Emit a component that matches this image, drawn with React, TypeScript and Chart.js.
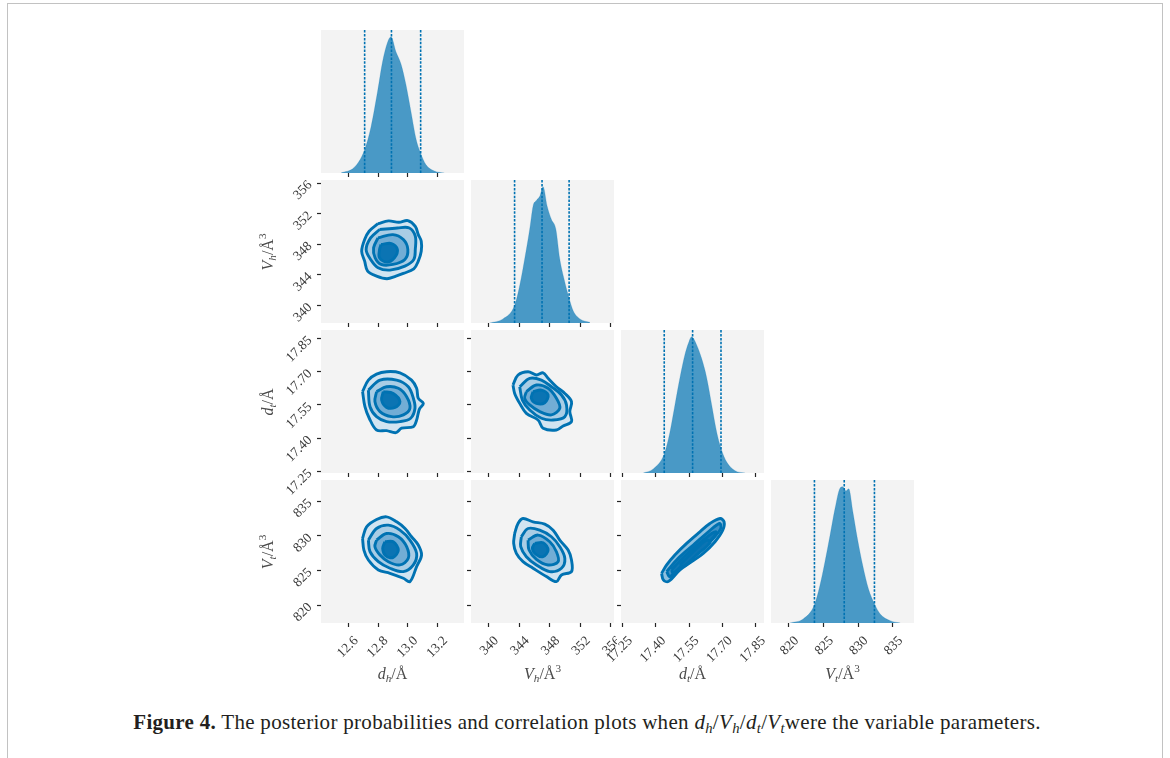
import React, { useEffect, useRef } from 'react';
import { Chart, registerables } from 'chart.js';

Chart.register(...registerables);

// ---------------- data ----------------
type Pt = [number, number];

const dhTicks = [12.6, 12.8, 13.0, 13.2];
const dhTickLabels = ['12.6', '12.8', '13.0', '13.2'];
const VhTicks = [340, 344, 348, 352, 356];
const VhTickLabels = ['340', '344', '348', '352', '356'];
const dtTicks = [17.25, 17.4, 17.55, 17.7, 17.85];
const dtTickLabels = ['17.25', '17.40', '17.55', '17.70', '17.85'];
const VtTicks = [820, 825, 830, 835];
const VtTickLabels = ['820', '825', '830', '835'];

const dhRange = [12.417, 13.377];
const VhRange = [337.7, 356.4];
const dtRange = [17.243, 17.888];
const VtRange = [817.43, 838.07];

// marginal posteriors (normalised to peak = 1)
const dhHistX = [12.551, 12.641, 12.708, 12.753, 12.797, 12.831, 12.864, 12.887, 12.92, 12.954, 12.987, 13.021, 13.055, 13.084, 13.122, 13.178, 13.245];
const dhHistY = [0.0, 0.042, 0.165, 0.34, 0.6, 0.82, 0.96, 1.0, 0.89, 0.8, 0.65, 0.45, 0.25, 0.15, 0.06, 0.015, 0.0];
const VhHistX = [340.13, 341.88, 343.41, 344.07, 344.72, 345.38, 345.82, 346.25, 346.69, 347.13, 347.65, 348.22, 348.79, 349.31, 349.97, 350.54, 351.06, 351.94, 353.25];
const VhHistY = [0.0, 0.03, 0.13, 0.275, 0.47, 0.69, 0.86, 0.9, 0.93, 1.0, 0.86, 0.76, 0.69, 0.47, 0.3, 0.18, 0.09, 0.03, 0.005];
const dtHistX = [17.3432, 17.3884, 17.4381, 17.4637, 17.4863, 17.5089, 17.5315, 17.5466, 17.5616, 17.5842, 17.6068, 17.6294, 17.652, 17.6746, 17.6942, 17.7198, 17.7575, 17.8026];
const dtHistY = [0.0, 0.03, 0.14, 0.3, 0.5, 0.7, 0.87, 0.95, 1.0, 0.94, 0.84, 0.7, 0.5, 0.3, 0.18, 0.08, 0.017, 0.0];
const VtHistX = [820.14, 822.08, 823.67, 824.49, 825.22, 825.94, 826.67, 827.39, 827.78, 828.26, 828.65, 829.23, 829.9, 830.68, 831.5, 832.37, 833.19, 834.64, 836.09];
const VtHistY = [0.0, 0.03, 0.13, 0.275, 0.45, 0.64, 0.84, 0.99, 1.0, 0.97, 0.985, 0.82, 0.62, 0.42, 0.25, 0.14, 0.066, 0.017, 0.0];

// 16 / 50 / 84 % quantiles
const dhQuantiles = [12.71, 12.89, 13.086];
const VhQuantiles = [343.4, 346.99, 350.53];
const dtQuantiles = [17.438, 17.566, 17.694];
const VtQuantiles = [823.7, 828.0, 832.36];

// 2-D credible contours (outer -> inner)
const dhVh1: Pt[] = [[12.8, 350.7], [12.87, 351.05], [12.94, 350.87], [13.0, 351.09], [13.05, 350.35], [13.07, 349.26], [13.09, 348.4], [13.09, 347.09], [13.07, 345.79], [13.04, 344.79], [12.97, 344.18], [12.92, 343.83], [12.86, 343.49], [12.79, 343.83], [12.73, 344.49], [12.71, 345.79], [12.69, 347.09], [12.71, 348.61], [12.74, 349.7]];
const dhVh2: Pt[] = [[12.81, 349.92], [12.93, 350.13], [13.01, 350.13], [13.05, 349.05], [13.05, 347.31], [13.04, 346.01], [12.98, 345.14], [12.88, 344.62], [12.8, 344.92], [12.75, 346.01], [12.72, 347.31], [12.75, 348.83]];
const dhVh3: Pt[] = [[12.8, 348.83], [12.9, 349.26], [12.97, 348.61], [13.0, 347.31], [12.98, 346.01], [12.9, 345.36], [12.82, 345.36], [12.78, 346.23], [12.77, 347.53]];
const dhVh4: Pt[] = [[12.82, 347.96], [12.89, 348.09], [12.93, 347.31], [12.91, 346.23], [12.86, 345.66], [12.81, 346.23], [12.81, 347.31]];

const dhdt1: Pt[] = [[12.696, 17.61], [12.735, 17.662], [12.79, 17.689], [12.857, 17.7], [12.947, 17.695], [13.025, 17.662], [13.059, 17.625], [13.07, 17.58], [13.104, 17.557], [13.077, 17.53], [13.059, 17.482], [13.037, 17.452], [12.958, 17.445], [12.92, 17.425], [12.857, 17.434], [12.79, 17.437], [12.741, 17.49], [12.712, 17.542]];
const dhdt2: Pt[] = [[12.735, 17.617], [12.813, 17.662], [12.925, 17.662], [13.003, 17.632], [13.037, 17.58], [13.048, 17.535], [13.019, 17.49], [12.947, 17.475], [12.857, 17.475], [12.79, 17.497], [12.746, 17.542]];
const dhdt3: Pt[] = [[12.79, 17.61], [12.857, 17.632], [12.936, 17.625], [12.992, 17.587], [13.014, 17.535], [12.97, 17.505], [12.891, 17.497], [12.813, 17.52], [12.779, 17.565]];
const dhdt4: Pt[] = [[12.835, 17.61], [12.902, 17.602], [12.947, 17.565], [12.914, 17.539], [12.857, 17.539], [12.824, 17.572]];

const Vhdt1: Pt[] = [[343.19, 17.64], [343.85, 17.685], [345.16, 17.7], [346.25, 17.685], [347.13, 17.695], [347.78, 17.67], [348.87, 17.632], [349.97, 17.602], [350.84, 17.565], [350.62, 17.52], [350.84, 17.475], [349.75, 17.455], [348.87, 17.437], [347.13, 17.445], [346.47, 17.482], [344.94, 17.512], [344.07, 17.557], [343.41, 17.602]];
const Vhdt2: Pt[] = [[344.07, 17.632], [345.38, 17.67], [346.91, 17.662], [348.22, 17.632], [349.53, 17.595], [350.19, 17.55], [349.97, 17.497], [348.44, 17.482], [346.91, 17.49], [345.38, 17.527], [344.42, 17.572]];
const Vhdt3: Pt[] = [[344.94, 17.61], [346.25, 17.64], [347.78, 17.625], [348.87, 17.58], [349.31, 17.535], [348.22, 17.505], [346.69, 17.52], [345.38, 17.55], [344.72, 17.58]];
const Vhdt4: Pt[] = [[345.81, 17.61], [346.91, 17.617], [347.78, 17.595], [347.34, 17.56], [346.25, 17.557], [345.59, 17.58]];

const dhVt1: Pt[] = [[12.696, 829.64], [12.723, 831.31], [12.79, 832.37], [12.857, 832.75], [12.925, 832.03], [12.981, 831.07], [13.025, 829.88], [13.07, 828.68], [13.092, 827.24], [13.059, 825.57], [13.014, 823.41], [12.97, 823.89], [12.88, 824.61], [12.802, 825.09], [12.735, 826.52], [12.705, 827.96]];
const dhVt2: Pt[] = [[12.735, 829.4], [12.79, 831.07], [12.869, 831.55], [12.947, 830.83], [13.014, 829.4], [13.059, 827.48], [13.037, 825.81], [12.97, 824.85], [12.88, 825.33], [12.802, 826.28], [12.746, 827.72]];
const dhVt3: Pt[] = [[12.79, 829.4], [12.857, 830.35], [12.936, 829.88], [12.992, 828.44], [13.003, 826.76], [12.947, 825.81], [12.869, 826.28], [12.813, 827.24], [12.779, 828.44]];
const dhVt4: Pt[] = [[12.846, 829.16], [12.902, 829.16], [12.936, 827.96], [12.902, 826.91], [12.853, 827.1], [12.831, 828.2]];

const VhVt1: Pt[] = [[343.41, 830.35], [343.85, 831.79], [344.5, 832.51], [345.81, 832.03], [347.34, 831.7], [348.44, 830.83], [349.31, 829.4], [350.4, 827.96], [350.84, 826.52], [350.84, 824.85], [349.53, 824.37], [348.87, 823.41], [347.56, 824.13], [345.81, 825.33], [344.5, 826.28], [343.63, 827.48], [343.28, 828.92]];
const VhVt2: Pt[] = [[344.28, 829.88], [345.16, 831.07], [346.69, 830.83], [348.22, 829.88], [349.31, 828.44], [349.97, 826.76], [349.53, 825.33], [348.0, 824.85], [346.25, 825.81], [344.94, 827.0], [344.2, 828.44]];
const VhVt3: Pt[] = [[345.16, 829.4], [346.47, 830.12], [348.0, 829.16], [348.87, 827.72], [349.09, 826.28], [347.78, 825.81], [346.25, 826.62], [345.29, 827.96]];
const VhVt4: Pt[] = [[346.03, 828.92], [347.13, 829.02], [347.78, 827.96], [347.13, 827.0], [346.16, 827.38], [345.73, 828.2]];

const dtVt1: Pt[] = [[17.426, 824.61], [17.449, 825.81], [17.486, 827.24], [17.539, 828.92], [17.599, 830.59], [17.644, 831.79], [17.69, 832.51], [17.708, 832.03], [17.702, 830.83], [17.667, 829.16], [17.614, 827.48], [17.562, 826.28], [17.509, 825.09], [17.456, 823.41], [17.434, 823.65]];
const dtVt2: Pt[] = [[17.449, 824.85], [17.501, 826.76], [17.569, 828.68], [17.637, 830.59], [17.687, 831.79], [17.693, 831.07], [17.652, 829.4], [17.584, 827.48], [17.516, 825.81], [17.464, 824.13]];
const dtVt3: Pt[] = [[17.471, 825.09], [17.524, 826.91], [17.592, 828.82], [17.652, 830.35], [17.672, 830.59], [17.66, 829.78], [17.599, 827.96], [17.531, 826.14], [17.479, 824.61]];
const dtVt4: Pt[] = [[17.509, 825.81], [17.569, 827.72], [17.629, 829.4], [17.644, 829.02], [17.584, 827.24], [17.524, 825.57]];

// ---------------- tables built from the arrays ----------------
type Param = { ticks: number[]; labels: string[]; range: number[]; histX: number[]; histY: number[]; q: number[]; sym: string; sub: string; cube: boolean };
const PARAMS: Param[] = [
  { ticks: dhTicks, labels: dhTickLabels, range: dhRange, histX: dhHistX, histY: dhHistY, q: dhQuantiles, sym: 'd', sub: 'h', cube: false },
  { ticks: VhTicks, labels: VhTickLabels, range: VhRange, histX: VhHistX, histY: VhHistY, q: VhQuantiles, sym: 'V', sub: 'h', cube: true },
  { ticks: dtTicks, labels: dtTickLabels, range: dtRange, histX: dtHistX, histY: dtHistY, q: dtQuantiles, sym: 'd', sub: 't', cube: false },
  { ticks: VtTicks, labels: VtTickLabels, range: VtRange, histX: VtHistX, histY: VtHistY, q: VtQuantiles, sym: 'V', sub: 't', cube: true },
];
const CONTOURS: Record<string, Pt[][]> = {
  '1-0': [dhVh1, dhVh2, dhVh3, dhVh4],
  '2-0': [dhdt1, dhdt2, dhdt3, dhdt4],
  '2-1': [Vhdt1, Vhdt2, Vhdt3, Vhdt4],
  '3-0': [dhVt1, dhVt2, dhVt3, dhVt4],
  '3-1': [VhVt1, VhVt2, VhVt3, VhVt4],
  '3-2': [dtVt1, dtVt2, dtVt3, dtVt4],
};

// ---------------- styling / layout ----------------
const COL_LEFT = [321, 471, 621, 771];
const ROW_TOP = [30, 180, 330, 480];
const PS = 143;
const ML = 56;
const MB = 64;
const MT = 3;
const MR = 3;
const HIST_MAX = 1.05;
const PANEL_BG = '#f3f3f3';
const LINE_COLOR = '#0072b2';
const HIST_FILL = 'rgba(0,114,178,0.70)';
const LEVEL_FILLS = ['#d1e4f1', '#a9cde5', '#72add5', '#0b74b3'];
const NARROW_FILLS = ['#8fc0df', '#3f91c6', '#1178b6', '#0b74b3'];
const TICK_COLOR = '#262626';
const LABEL_COLOR = '#3a3a3a';
const SERIF = '"Liberation Serif", "Times New Roman", serif';

const bgPlugin = {
  id: 'panelBg',
  beforeDraw(chart: any) {
    const { ctx, chartArea: a } = chart;
    ctx.save();
    ctx.fillStyle = PANEL_BG;
    ctx.fillRect(a.left, a.top, a.right - a.left, a.bottom - a.top);
    ctx.restore();
  },
};

function zeroPad(s: any) {
  s.paddingLeft = 0;
  s.paddingRight = 0;
  s.paddingTop = 0;
  s.paddingBottom = 0;
}

function buildConfig(row: number, col: number): any {
  const px = PARAMS[col];
  const py = PARAMS[row];
  const diag = row === col;
  const isBottom = row === 3;
  const datasets: any[] = [];
  if (diag) {
    px.q.forEach((q) => {
      datasets.push({
        data: [{ x: q, y: 0 }, { x: q, y: HIST_MAX }],
        borderColor: LINE_COLOR,
        borderWidth: 1.6,
        borderDash: [2.5, 1.4],
        pointRadius: 0,
        fill: false,
        tension: 0,
      });
    });
    datasets.push({
      data: px.histX.map((x, i) => ({ x, y: px.histY[i] })),
      borderColor: 'rgba(0,114,178,0.25)',
      borderWidth: 0.8,
      backgroundColor: HIST_FILL,
      fill: 'origin',
      pointRadius: 0,
      cubicInterpolationMode: 'monotone',
    });
  } else {
    const key = `${row}-${col}`;
    const levels = CONTOURS[key];
    const fills = key === '3-2' ? NARROW_FILLS : LEVEL_FILLS;
    for (let k = levels.length - 1; k >= 0; k--) {
      const pts = levels[k];
      const closed = [...pts, pts[0]];
      datasets.push({
        data: closed.map(([x, y]) => ({ x, y })),
        borderColor: LINE_COLOR,
        borderWidth: 2.9,
        backgroundColor: fills[k],
        fill: 'shape',
        pointRadius: 0,
        tension: 0.35,
      });
    }
  }

  const tickFont = { family: SERIF, size: 13.5 };

  const xScale: any = {
    type: 'linear',
    position: 'bottom',
    min: px.range[0],
    max: px.range[1],
    afterBuildTicks: (s: any) => {
      s.ticks = px.ticks.map((v) => ({ value: v }));
    },
    afterFit: (s: any) => {
      s.height = MB;
      zeroPad(s);
    },
    grid: { display: true, drawOnChartArea: false, drawTicks: true, tickLength: 4, tickWidth: 1.2, tickColor: TICK_COLOR },
    border: { display: false },
    ticks: {
      autoSkip: false,
      minRotation: 45,
      maxRotation: 45,
      padding: 6,
      labelOffset: 8,
      color: LABEL_COLOR,
      font: tickFont,
      callback: (_v: any, i: number) => (isBottom ? px.labels[i] : ''),
    },
  };

  const yScale: any = diag
    ? {
        type: 'linear',
        position: 'left',
        min: 0,
        max: HIST_MAX,
        afterFit: (s: any) => {
          s.width = ML;
          zeroPad(s);
        },
        grid: { display: false },
        border: { display: false },
        ticks: { display: false },
      }
    : {
        type: 'linear',
        position: 'left',
        min: py.range[0],
        max: py.range[1],
        afterBuildTicks: (s: any) => {
          s.ticks = py.ticks.map((v) => ({ value: v }));
        },
        afterFit: (s: any) => {
          s.width = ML;
          zeroPad(s);
        },
        grid: { display: true, drawOnChartArea: false, drawTicks: true, tickLength: 4, tickWidth: 1.2, tickColor: TICK_COLOR },
        border: { display: false },
        ticks: {
          autoSkip: false,
          minRotation: 45,
          maxRotation: 45,
          padding: 7,
          color: LABEL_COLOR,
          font: tickFont,
          callback: (_v: any, i: number) => (col === 0 ? py.labels[i] : ''),
        },
      };

  return {
    type: 'line',
    data: { datasets },
    options: {
      responsive: false,
      maintainAspectRatio: false,
      animation: false,
      events: [],
      layout: { padding: { top: MT, right: MR, left: 0, bottom: 0 } },
      plugins: { legend: { display: false }, tooltip: { enabled: false } },
      scales: { x: xScale, y: yScale },
    },
    plugins: [bgPlugin],
  };
}

function Panel({ row, col }: { row: number; col: number }) {
  const ref = useRef<HTMLCanvasElement>(null);
  useEffect(() => {
    if (!ref.current) return;
    const chart = new Chart(ref.current, buildConfig(row, col));
    return () => chart.destroy();
  }, [row, col]);
  const w = ML + PS + MR;
  const h = MT + PS + MB;
  return (
    <canvas
      ref={ref}
      width={w}
      height={h}
      style={{ position: 'absolute', left: COL_LEFT[col] - ML, top: ROW_TOP[row] - MT, width: w, height: h }}
    />
  );
}

function AxisTitle({ p }: { p: Param }) {
  return (
    <span>
      <i>{p.sym}</i>
      <sub style={{ fontSize: '0.7em', verticalAlign: '-0.3em', lineHeight: 0, fontStyle: 'italic' }}>{p.sub}</sub>
      /Å
      {p.cube ? <sup style={{ fontSize: '0.7em', verticalAlign: '0.6em', lineHeight: 0 }}>3</sup> : null}
    </span>
  );
}

function MathSym({ s, sub }: { s: string; sub: string }) {
  return (
    <span>
      <i>{s}</i>
      <sub style={{ fontSize: '0.7em', verticalAlign: '-0.3em', lineHeight: 0, fontStyle: 'italic' }}>{sub}</sub>
    </span>
  );
}

const PANELS: [number, number][] = [];
for (let r = 0; r < 4; r++) for (let c = 0; c <= r; c++) PANELS.push([r, c]);

export default function App() {
  return (
    <div style={{ position: 'absolute', left: 0, top: 0, width: 1170, height: 758, background: '#fff', overflow: 'hidden' }}>
      <div
        style={{
          position: 'absolute',
          left: 7,
          top: 3,
          width: 1154,
          height: 800,
          borderLeft: '1.5px solid #c2c2c2',
          borderTop: '1.5px solid #c2c2c2',
          borderRight: '1.5px solid #c2c2c2',
        }}
      />
      {PANELS.map(([r, c]) => (
        <Panel key={`${r}-${c}`} row={r} col={c} />
      ))}
      {PARAMS.map((p, c) => (
        <div
          key={`xt${c}`}
          style={{
            position: 'absolute',
            left: COL_LEFT[c] + PS / 2,
            top: 674,
            transform: 'translate(-50%, -50%)',
            fontFamily: SERIF,
            fontSize: 16,
            color: '#4a4a4a',
            whiteSpace: 'nowrap',
            lineHeight: '18px',
          }}
        >
          <AxisTitle p={p} />
        </div>
      ))}
      {PARAMS.slice(1).map((p, i) => (
        <div
          key={`yt${i}`}
          style={{
            position: 'absolute',
            left: 268,
            top: ROW_TOP[i + 1] + PS / 2,
            transform: 'translate(-50%, -50%) rotate(-90deg)',
            fontFamily: SERIF,
            fontSize: 16,
            color: '#4a4a4a',
            whiteSpace: 'nowrap',
            lineHeight: '18px',
          }}
        >
          <AxisTitle p={p} />
        </div>
      ))}
      <div
        style={{
          position: 'absolute',
          left: 2,
          top: 710,
          width: 1170,
          textAlign: 'center',
          fontFamily: SERIF,
          fontSize: 21,
          lineHeight: '24px',
          letterSpacing: '0.3px',
          color: '#231f20',
          whiteSpace: 'nowrap',
        }}
      >
        <b>Figure 4.</b> The posterior probabilities and correlation plots when <MathSym s="d" sub="h" />/
        <MathSym s="V" sub="h" />/<MathSym s="d" sub="t" />/<MathSym s="V" sub="t" />were the variable parameters.
      </div>
    </div>
  );
}
